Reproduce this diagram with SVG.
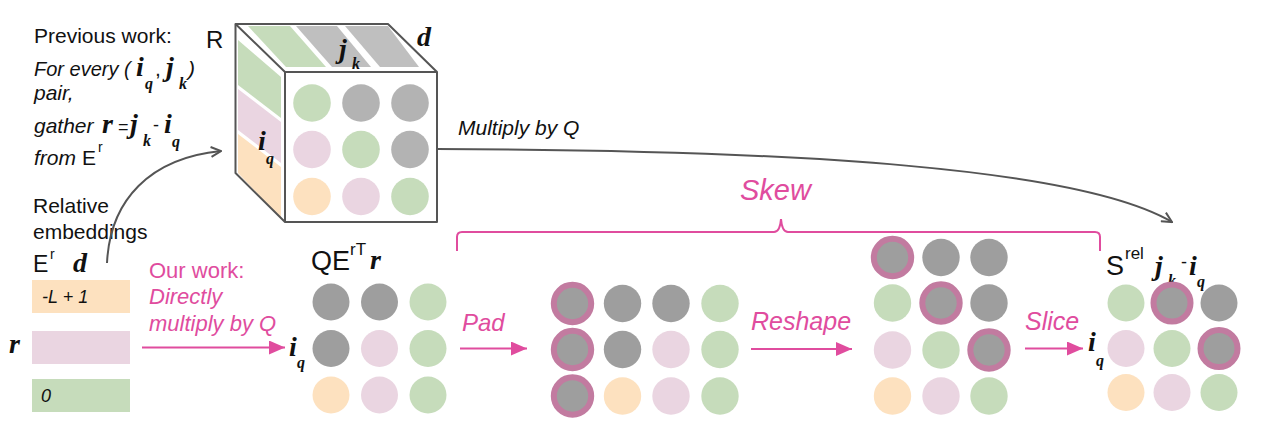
<svg xmlns="http://www.w3.org/2000/svg" width="1265" height="428" viewBox="0 0 1265 428">
<defs>
<style>
.t{font-family:"Liberation Sans",Arial,sans-serif;fill:#111}
.it{font-style:italic}
.pk{fill:#e04c9e}
.m{font-family:"Liberation Serif","Times New Roman",serif;font-weight:bold;font-style:italic;fill:#111}
.g{fill:#c6dcbb}.p{fill:#ead5e1}.o{fill:#fde1bf}.k{fill:#9e9e9e}.kc{fill:#b3b3b3}
.ring{fill:#9e9e9e;stroke:#c27ba0;stroke-width:6}
.edge{fill:none;stroke:#555;stroke-width:2;stroke-linejoin:round}
.garrow{fill:none;stroke:#555;stroke-width:2}
.parrow{fill:none;stroke:#e04c9e;stroke-width:2}
</style>
<marker id="ga" viewBox="0 0 12 12" refX="11" refY="6" markerWidth="12" markerHeight="12" markerUnits="userSpaceOnUse" orient="auto">
<path d="M1,1 L11,6 L1,11" fill="none" stroke="#555" stroke-width="2"/>
</marker>
<marker id="pa" viewBox="0 0 16 14" refX="16" refY="7" markerWidth="16" markerHeight="14" markerUnits="userSpaceOnUse" orient="auto">
<path d="M0,0 L16,7 L0,14 Z" fill="#e04c9e"/>
</marker>
</defs>
<rect width="1265" height="428" fill="#fff"/>

<g id="previous-work-text">
<text class="t" x="34" y="43" font-size="21">Previous work:</text>
<text class="t it" x="34" y="76" font-size="20">For every (</text>
<text class="m" x="136" y="76" font-size="28">i</text>
<text class="m" x="145" y="89" font-size="16">q</text>
<text class="t" x="155" y="76" font-size="21">,</text>
<text class="m" x="166" y="76" font-size="28">j</text>
<text class="m" x="179" y="89" font-size="16">k</text>
<text class="t it" x="188" y="76" font-size="21">)</text>
<text class="t it" x="34" y="100" font-size="21">pair,</text>
<text class="t it" x="34" y="133" font-size="21">gather</text>
<text class="m" x="102" y="133" font-size="28">r</text>
<text class="t" x="118" y="133" font-size="18">=</text>
<text class="m" x="130" y="133" font-size="28">j</text>
<text class="m" x="143" y="146" font-size="16">k</text>
<text class="t" x="153" y="131" font-size="18">-</text>
<text class="m" x="164" y="133" font-size="28">i</text>
<text class="m" x="172" y="147" font-size="16">q</text>
<text class="t it" x="34" y="165" font-size="21">from</text>
<text class="t" x="82" y="165" font-size="21">E</text>
<text class="t" x="98" y="152" font-size="14">r</text>
<text class="t" x="33" y="213" font-size="21">Relative</text>
<text class="t" x="33" y="239" font-size="21">embeddings</text>
</g>

<g id="cube-R">
<polygon points="235.5,24 388,24 437,72 285,72" fill="#fff"/>
<polygon points="235.5,24 285,72 285,222 235.5,173" fill="#fff"/>
<polygon class="g" points="248,26 290,26 326,67 286,67"/>
<polygon fill="#bfbfbf" points="296,26 337,26 371,67 332,67"/>
<polygon fill="#bfbfbf" points="345,26 388,26 419,67 380,67"/>
<polygon class="g" points="238,40 281,77 281,118 238,85"/>
<polygon class="p" points="238,89 281,122 281,163 238,130"/>
<polygon class="o" points="238,134 281,167 281,219 238,173"/>
<rect x="285" y="72" width="152" height="150" fill="#fff"/>
<polygon class="edge" points="235.5,24 388,24 437,72 437,222 285,222 235.5,173"/>
<polyline class="edge" points="235.5,24 285,72 437,72"/>
<line class="edge" x1="285" y1="72" x2="285" y2="222"/>
<circle class="g" cx="312" cy="103" r="18.8"/>
<circle class="kc" cx="361" cy="103" r="18.8"/>
<circle class="kc" cx="410" cy="103" r="18.8"/>
<circle class="p" cx="312" cy="149.5" r="18.8"/>
<circle class="g" cx="361" cy="149.5" r="18.8"/>
<circle class="kc" cx="410" cy="149.5" r="18.8"/>
<circle class="o" cx="312" cy="196.5" r="18.8"/>
<circle class="p" cx="361" cy="196.5" r="18.8"/>
<circle class="g" cx="410" cy="196.5" r="18.8"/>
<text class="t" x="206" y="48" font-size="24">R</text>
<text class="m" x="417" y="46" font-size="28">d</text>
<text class="m" x="339" y="58" font-size="28">j</text>
<text class="m" x="352" y="69" font-size="16">k</text>
<text class="m" x="258" y="150" font-size="28">i</text>
<text class="m" x="266" y="164" font-size="16">q</text>
</g>

<g id="relative-embeddings">
<text class="t" x="33" y="272" font-size="23">E</text>
<text class="t" x="50" y="259" font-size="14">r</text>
<text class="m" x="73" y="272" font-size="28">d</text>
<rect class="o" x="32" y="280" width="98" height="33"/>
<rect class="p" x="32" y="331" width="98" height="33"/>
<rect class="g" x="32" y="379" width="98" height="33"/>
<text class="t it" x="42" y="303" font-size="18">-L + 1</text>
<text class="t it" x="41" y="402" font-size="18">0</text>
<text class="m" x="9" y="353" font-size="28">r</text>
</g>

<g id="qe-matrix">
<text class="t" x="311" y="270" font-size="27">QE</text>
<text class="t" x="350" y="255" font-size="17">rT</text>
<text class="m" x="370" y="269" font-size="28">r</text>
<text class="m" x="289" y="356" font-size="28">i</text>
<text class="m" x="297" y="368" font-size="16">q</text>
<circle class="k" cx="331" cy="302" r="18.5"/>
<circle class="k" cx="379.5" cy="302" r="18.5"/>
<circle class="g" cx="428" cy="302" r="18.5"/>
<circle class="k" cx="331" cy="348.5" r="18.5"/>
<circle class="p" cx="379.5" cy="348.5" r="18.5"/>
<circle class="g" cx="428" cy="348.5" r="18.5"/>
<circle class="o" cx="331" cy="395" r="18.5"/>
<circle class="p" cx="379.5" cy="395" r="18.5"/>
<circle class="g" cx="428" cy="395" r="18.5"/>
</g>

<g id="pad-matrix">
<circle class="ring" cx="572.5" cy="303.5" r="18.7"/>
<circle class="k" cx="622.5" cy="303.5" r="18.7"/>
<circle class="k" cx="671" cy="303.5" r="18.7"/>
<circle class="g" cx="720" cy="303.5" r="18.7"/>
<circle class="ring" cx="572.5" cy="349.5" r="18.7"/>
<circle class="k" cx="622.5" cy="349.5" r="18.7"/>
<circle class="p" cx="671" cy="349.5" r="18.7"/>
<circle class="g" cx="720" cy="349.5" r="18.7"/>
<circle class="ring" cx="572.5" cy="396" r="18.7"/>
<circle class="o" cx="622.5" cy="396" r="18.7"/>
<circle class="p" cx="671" cy="396" r="18.7"/>
<circle class="g" cx="720" cy="396" r="18.7"/>
</g>

<g id="reshape-matrix">
<circle class="ring" cx="892.5" cy="257.5" r="18.7"/>
<circle class="k" cx="941" cy="257.5" r="18.7"/>
<circle class="k" cx="989" cy="257.5" r="18.7"/>
<circle class="g" cx="892.5" cy="303" r="18.7"/>
<circle class="ring" cx="941" cy="303" r="18.7"/>
<circle class="k" cx="989" cy="303" r="18.7"/>
<circle class="p" cx="892.5" cy="350" r="18.7"/>
<circle class="g" cx="941" cy="350" r="18.7"/>
<circle class="ring" cx="989" cy="350" r="18.7"/>
<circle class="o" cx="892.5" cy="396" r="18.7"/>
<circle class="p" cx="941" cy="396" r="18.7"/>
<circle class="g" cx="989" cy="396" r="18.7"/>
</g>

<g id="srel-matrix">
<text class="t" x="1106" y="275" font-size="27">S</text>
<text class="t" x="1125" y="259" font-size="17">rel</text>
<text class="m" x="1155" y="275" font-size="28">j</text>
<text class="m" x="1168" y="286" font-size="16">k</text>
<text class="t" x="1181" y="268" font-size="18">-</text>
<text class="m" x="1189" y="275" font-size="28">i</text>
<text class="m" x="1197" y="287" font-size="16">q</text>
<text class="m" x="1088" y="351" font-size="28">i</text>
<text class="m" x="1096" y="366" font-size="16">q</text>
<circle class="g" cx="1126" cy="303" r="18.5"/>
<circle class="ring" cx="1172" cy="303" r="18.5"/>
<circle class="k" cx="1219" cy="303" r="18.5"/>
<circle class="p" cx="1126" cy="348.5" r="18.5"/>
<circle class="g" cx="1172" cy="348.5" r="18.5"/>
<circle class="ring" cx="1219" cy="348.5" r="18.5"/>
<circle class="o" cx="1126" cy="392.5" r="18.5"/>
<circle class="p" cx="1172" cy="392.5" r="18.5"/>
<circle class="g" cx="1219" cy="392.5" r="18.5"/>
</g>

<g id="labels">
<text class="t it" x="458" y="135" font-size="21">Multiply by Q</text>
<text class="t it pk" x="740" y="200" font-size="29">Skew</text>
<text class="t pk" x="149" y="278" font-size="22">Our work:</text>
<text class="t it pk" x="149" y="304" font-size="22">Directly</text>
<text class="t it pk" x="149" y="331" font-size="22">multiply by Q</text>
<text class="t it pk" x="462" y="331" font-size="24">Pad</text>
<text class="t it pk" x="751" y="330" font-size="25">Reshape</text>
<text class="t it pk" x="1025" y="330" font-size="25">Slice</text>
</g>

<g id="connectors">
<path class="garrow" d="M107,263 C110,200 150,158 221,151" marker-end="url(#ga)"/>
<path class="garrow" d="M437,149 C800,150 1080,168 1172,222" marker-end="url(#ga)"/>
<line class="parrow" x1="142" y1="347.5" x2="285" y2="347.5" marker-end="url(#pa)"/>
<line class="parrow" x1="460" y1="348.5" x2="527" y2="348.5" marker-end="url(#pa)"/>
<line class="parrow" x1="751" y1="349" x2="852" y2="349" marker-end="url(#pa)"/>
<line class="parrow" x1="1025" y1="348.5" x2="1083" y2="348.5" marker-end="url(#pa)"/>
<path class="parrow" d="M457,251 L457,237 Q457,232 462,232 L774,232 Q780,232 781,219 Q782,232 788,232 L1095,232 Q1100,232 1100,237 L1100,251"/>
</g>
</svg>
